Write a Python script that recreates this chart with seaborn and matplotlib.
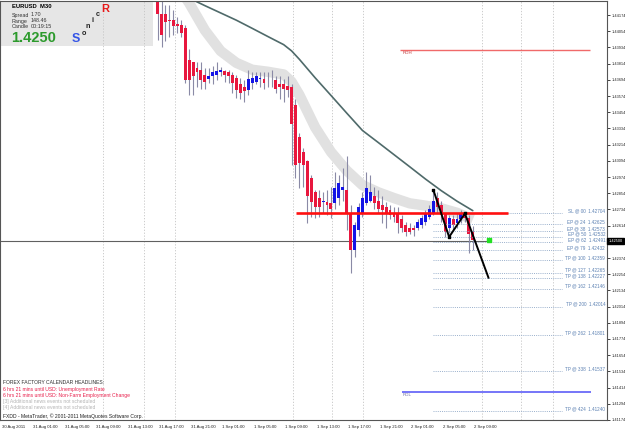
import matplotlib
matplotlib.use("Agg")
import matplotlib.pyplot as plt
import matplotlib.transforms as mtransforms
from matplotlib.patches import Rectangle
import seaborn as sns
import pandas as pd

# ---------------- data ----------------
bar_index = list(range(32, 113))
opens = [1.4451, 1.4418, 1.4418, 1.4414, 1.4414, 1.4411, 1.4410, 1.4408, 1.4384, 1.4383,
         1.4378, 1.4377, 1.4373, 1.4370, 1.4372, 1.4373, 1.4375, 1.4376, 1.4375, 1.4373,
         1.4371, 1.4366, 1.4364, 1.4362, 1.4367, 1.4368, 1.4370, 1.4370, 1.4369, 1.4369,
         1.4369, 1.4366, 1.4366, 1.4365, 1.4364, 1.4351, 1.4327, 1.4316, 1.4309, 1.4297,
         1.4286, 1.4282, 1.4279, 1.4279, 1.4278, 1.4278, 1.4282, 1.4288, 1.4288, 1.4271,
         1.4243, 1.4258, 1.4271, 1.4278, 1.4280, 1.4283, 1.4280, 1.4277, 1.4275, 1.4273,
         1.4271, 1.4271, 1.4266, 1.4262, 1.4260, 1.4260, 1.4260, 1.4262, 1.4264, 1.4268,
         1.4271, 1.4282, 1.4277, 1.4270, 1.4260, 1.4266, 1.4263, 1.4266, 1.4270, 1.4267,
         1.4257]
highs = [1.4458, 1.4429, 1.4425, 1.4425, 1.4421, 1.4416, 1.4414, 1.4410, 1.4392, 1.4383,
         1.4383, 1.4383, 1.4378, 1.4378, 1.4380, 1.4383, 1.4379, 1.4377, 1.4377, 1.4375,
         1.4373, 1.4371, 1.4369, 1.4377, 1.4375, 1.4375, 1.4375, 1.4375, 1.4375, 1.4377,
         1.4372, 1.4372, 1.4370, 1.4372, 1.4366, 1.4355, 1.4330, 1.4319, 1.4310, 1.4299,
         1.4288, 1.4288, 1.4286, 1.4288, 1.4290, 1.4301, 1.4299, 1.4304, 1.4313, 1.4277,
         1.4264, 1.4278, 1.4286, 1.4301, 1.4299, 1.4290, 1.4288, 1.4283, 1.4279, 1.4277,
         1.4275, 1.4275, 1.4269, 1.4264, 1.4263, 1.4262, 1.4266, 1.4269, 1.4273, 1.4277,
         1.4288, 1.4286, 1.4280, 1.4271, 1.4269, 1.4269, 1.4271, 1.4273, 1.4271, 1.4269,
         1.4261]
lows = [1.4399, 1.4394, 1.4398, 1.4401, 1.4403, 1.4404, 1.4401, 1.4367, 1.4358, 1.4358,
        1.4364, 1.4363, 1.4363, 1.4367, 1.4366, 1.4369, 1.4372, 1.4368, 1.4367, 1.4360,
        1.4356, 1.4355, 1.4353, 1.4358, 1.4363, 1.4366, 1.4364, 1.4363, 1.4364, 1.4364,
        1.4360, 1.4355, 1.4353, 1.4357, 1.4306, 1.4297, 1.4289, 1.4290, 1.4263, 1.4268,
        1.4267, 1.4268, 1.4271, 1.4269, 1.4267, 1.4274, 1.4277, 1.4280, 1.4258, 1.4226,
        1.4238, 1.4254, 1.4268, 1.4277, 1.4279, 1.4274, 1.4271, 1.4263, 1.4260, 1.4266,
        1.4264, 1.4256, 1.4257, 1.4254, 1.4255, 1.4254, 1.4258, 1.4260, 1.4262, 1.4266,
        1.4269, 1.4271, 1.4264, 1.4253, 1.4256, 1.4258, 1.4260, 1.4263, 1.4264, 1.4241,
        1.4243]
closes = [1.4418, 1.4403, 1.4412, 1.4413, 1.4409, 1.4409, 1.4404, 1.4369, 1.4369, 1.4372,
          1.4375, 1.4369, 1.4368, 1.4372, 1.4375, 1.4376, 1.4377, 1.4373, 1.4372, 1.4367,
          1.4362, 1.4360, 1.4361, 1.4370, 1.4371, 1.4372, 1.4370, 1.4367, 1.4369, 1.4369,
          1.4363, 1.4364, 1.4363, 1.4362, 1.4337, 1.4306, 1.4308, 1.4306, 1.4283, 1.4279,
          1.4275, 1.4275, 1.4279, 1.4277, 1.4274, 1.4289, 1.4293, 1.4290, 1.4271, 1.4243,
          1.4262, 1.4275, 1.4282, 1.4289, 1.4286, 1.4278, 1.4274, 1.4273, 1.4271, 1.4269,
          1.4268, 1.4263, 1.4260, 1.4257, 1.4257, 1.4258, 1.4264, 1.4267, 1.4271, 1.4274,
          1.4280, 1.4275, 1.4269, 1.4257, 1.4267, 1.4262, 1.4266, 1.4270, 1.4267, 1.4255,
          1.4251]

ma_slow_bars = [40, 44, 48, 52, 56, 60, 64, 66, 68, 72, 76, 80, 84, 88, 92, 96, 100, 104, 108, 112]
ma_slow = [1.44300, 1.44244, 1.44190, 1.44136, 1.44076, 1.44015, 1.43955, 1.43909, 1.43846, 1.43709,
           1.43579, 1.43448, 1.43319, 1.43230, 1.43140, 1.43050, 1.42959, 1.42873, 1.42795, 1.42725]
ma_band_bars = [38, 40, 44, 48, 52, 56, 60, 64, 66, 68, 72, 76, 80, 84, 88, 92, 96, 100, 104, 108, 112]
ma_band = [1.44350, 1.44264, 1.44062, 1.43908, 1.43820, 1.43769, 1.43754, 1.43734, 1.43680, 1.43582,
           1.43342, 1.43160, 1.43022, 1.42914, 1.42861, 1.42818, 1.42779, 1.42762, 1.42742, 1.42709,
           1.42659]

zigzag_bars = [102, 106, 110, 116]
zigzag_prices = [1.42878, 1.42530, 1.42704, 1.42227]

fib_tags = ["SL @ 00", "EP @ 24", "EP @ 38", "EP @ 50", "EP @ 62", "EP @ 79", "TP @ 100",
            "TP @ 127", "TP @ 138", "TP @ 162", "TP @ 200", "TP @ 262", "TP @ 338", "TP @ 424"]
fib_prices = [1.42704, 1.42625, 1.42573, 1.42532, 1.42491, 1.42432, 1.42359,
              1.42265, 1.42227, 1.42146, 1.42014, 1.41801, 1.41537, 1.41240]

time_tick_bars = [-8, 0, 8, 16, 24, 32, 40, 48, 56, 64, 72, 80, 88, 96, 104, 112]
time_tick_labels = ["30 Aug 2011", "31 Aug 01:00", "31 Aug 05:00", "31 Aug 09:00", "31 Aug 13:00",
                    "31 Aug 17:00", "31 Aug 21:00", "1 Sep 01:00", "1 Sep 05:00", "1 Sep 09:00",
                    "1 Sep 13:00", "1 Sep 17:00", "1 Sep 21:00", "2 Sep 01:00", "2 Sep 05:00",
                    "2 Sep 09:00"]
grid_bars = [18.2, 28.6, 36.4, 66.4, 76.3, 84.1, 114.3, 124.2, 132.4]

price_ticks = [1.41174, 1.41294, 1.41414, 1.41534, 1.41654, 1.41774, 1.41894, 1.42014, 1.42134,
               1.42254, 1.42374, 1.42494, 1.42614, 1.42734, 1.42854, 1.42974, 1.43094, 1.43214,
               1.43334, 1.43454, 1.43574, 1.43694, 1.43814, 1.43934, 1.44054, 1.44174]

rdh_price, rdl_price = 1.43915, 1.41381
sl_line_price = 1.42704
bid_price = 1.42500
signal_bar, signal_price = 116, 1.42510

news_lines = ["FOREX FACTORY CALENDAR HEADLINES:",
              "6 hrs 21 mins until USD: Unemployment Rate",
              "6 hrs 21 mins until USD: Non-Farm Employment Change",
              "[3] Additional news events not scheduled",
              "[4] Additional news events not scheduled",
              "FXDD - MetaTrader, \u00a9 2001-2011 MetaQuotes Software Corp."]

# ---------------- style ----------------
sns.set_style("white")
plt.rcParams["font.family"] = ["Liberation Sans", "DejaVu Sans"]

W, H = 625, 429
fig = plt.figure(figsize=(W / 100, H / 100), dpi=100)
fig.patch.set_facecolor("white")
ax = fig.add_axes([0.0, (H - 420) / H, 607 / W, 419 / H])
ax.set_facecolor("white")

XMIN, XMAX = -7.995, 146.07
YMIN, YMAX = 1.411736, 1.442784
ax.set_xlim(XMIN, XMAX)
ax.set_ylim(YMIN, YMAX)

def figpx(x, y):
    return x / W, 1 - y / H

# info panel background
ax.add_patch(Rectangle((0, (420 - 46) / 419), 153 / 607, 1, transform=ax.transAxes,
                       facecolor="#e6e6e6", edgecolor="none", zorder=0.5))

# vertical grid
for g in grid_bars:
    ax.axvline(g, color="#c4c4c4", lw=0.6, ls=(0, (1.5, 2)), zorder=0.8)

# MA band and slow MA
sns.lineplot(x=ma_band_bars, y=ma_band, ax=ax, color="#e1e1e1", linewidth=7.5,
             solid_capstyle="butt", zorder=1, legend=False)
sns.lineplot(x=ma_slow_bars, y=ma_slow, ax=ax, color="#4f6a6a", linewidth=1.2,
             zorder=1.2, legend=False)

# candles
df = pd.DataFrame({"t": bar_index, "o": opens, "h": highs, "l": lows, "c": closes})
up = df["c"] >= df["o"]
ax.vlines(df["t"], df["l"], df["h"], color="#8a8aa6", lw=0.8, zorder=2)
body_min = 0.00006
for is_up, col in [(True, "#1414e6"), (False, "#e8173e")]:
    d = df[up == is_up]
    bottom = d[["o", "c"]].min(axis=1)
    height = (d["c"] - d["o"]).abs().clip(lower=body_min)
    ax.bar(d["t"], height, bottom=bottom, width=0.74, color=col, linewidth=0, zorder=2.2)

# bid line
ax.axhline(bid_price, xmax=(signal_bar + 0.5 - XMIN) / (XMAX - XMIN), color="#606060", lw=0.8, zorder=1.5)

# red SL line
ax.hlines(sl_line_price, 67.1, 120.9, color="#ff1010", lw=1.9, zorder=3)

# RDH / RDL
ax.hlines(rdh_price, 93.5, 141.8, color="#f06a6a", lw=1.0, zorder=3)
ax.text(94.3, rdh_price - 0.00006, "RDH", fontsize=3.2, color="#c03030", va="top", ha="left")
ax.hlines(rdl_price, 94.0, 142.0, color="#6a6af8", lw=1.3, zorder=3)
ax.text(94.3, rdl_price - 0.00008, "RDL", fontsize=3.2, color="#6a6aa0", va="top", ha="left")

# fib levels
for tag, p in zip(fib_tags, fib_prices):
    ax.hlines(p, 102, 134.6, color="#9ab0cc", lw=0.7, ls=(0, (1, 1.2)), zorder=2.5)
    ax.text(145.6, p, f"{tag}  {p:.5f}", fontsize=3.3, color="#5b80b2", ha="right", va="bottom",
            zorder=4)

# zigzag
sns.lineplot(x=zigzag_bars, y=zigzag_prices, ax=ax, color="black", linewidth=1.4,
             sort=False, zorder=5, legend=False)
ax.scatter(zigzag_bars[:3], zigzag_prices[:3], s=3, marker="s", color="black", zorder=5.5)
ax.scatter([signal_bar], [signal_price], s=8, marker="s", color="#22e022", zorder=5.5)

# axes styling
for side in ["left", "top", "right", "bottom"]:
    ax.spines[side].set_visible(True)
    ax.spines[side].set_color("#555555")
    ax.spines[side].set_linewidth(0.8)
ax.yaxis.tick_right()
ax.set_yticks(price_ticks)
ax.set_yticklabels(["" if abs(p - bid_price) < 0.0003 else f"{p:.5f}" for p in price_ticks])
ax.tick_params(axis="y", which="major", direction="out", length=2, width=0.6, pad=1.2,
               labelsize=2.8, colors="#222222")
ax.set_xticks(time_tick_bars)
ax.set_xticklabels(time_tick_labels)
ax.tick_params(axis="x", which="major", direction="out", length=2.5, width=0.6, pad=0.8,
               labelsize=3.1, colors="#222222")
offset = mtransforms.ScaledTranslation(1.5 / 100, 0, fig.dpi_scale_trans)
for lab in ax.get_xticklabels():
    lab.set_horizontalalignment("left")
    lab.set_transform(lab.get_transform() + offset)
ax.set_xlabel("")
ax.set_ylabel("")

# current price box on right axis
ax.text(1.002, (bid_price - YMIN) / (YMAX - YMIN), "1.42500", transform=ax.transAxes,
        fontsize=2.8, color="white", va="center", ha="left", zorder=10, clip_on=False,
        bbox=dict(boxstyle="square,pad=0.35", facecolor="black", edgecolor="black"))

# info panel texts
fig.text(*figpx(12, 6), "EURUSD  M30", fontsize=4.2, fontweight="bold", color="black", va="center")
for (lbl, val, y) in [("Spread", "1.70", 15), ("Range", "148.46", 21), ("Candle", "00:19:15", 27)]:
    fig.text(*figpx(12, y), lbl, fontsize=3.9, color="#333333", va="center")
    fig.text(*figpx(31, y), val, fontsize=3.9, color="#333333", va="center")
fig.text(*figpx(11, 38), "1.4250", fontsize=10.5, fontweight="bold", color="#2c9a2c", va="center")
for ch, x, y, fs, col in [("S", 72, 38.5, 9.0, "#3454e6"), ("o", 82, 33.5, 5.2, "#222222"),
                          ("n", 86, 26.5, 5.2, "#222222"), ("i", 91.5, 20.5, 5.2, "#222222"),
                          ("c", 95.5, 15, 5.2, "#222222"), ("R", 101, 8.5, 8.0, "#e81818")]:
    fig.text(*figpx(x, y), ch, fontsize=fs, fontweight="bold", color=col, va="center", ha="left")

# news texts
news_y = [383, 389, 395.3, 401.7, 407.5, 415.7]
news_col = ["#303030", "#e8204c", "#e8204c", "#b4b4b4", "#b4b4b4", "#202020"]
for txt, y, col in zip(news_lines, news_y, news_col):
    fig.text(*figpx(3, y), txt, fontsize=3.6, color=col, va="center", ha="left")

fig.savefig("out.png", dpi=100)
